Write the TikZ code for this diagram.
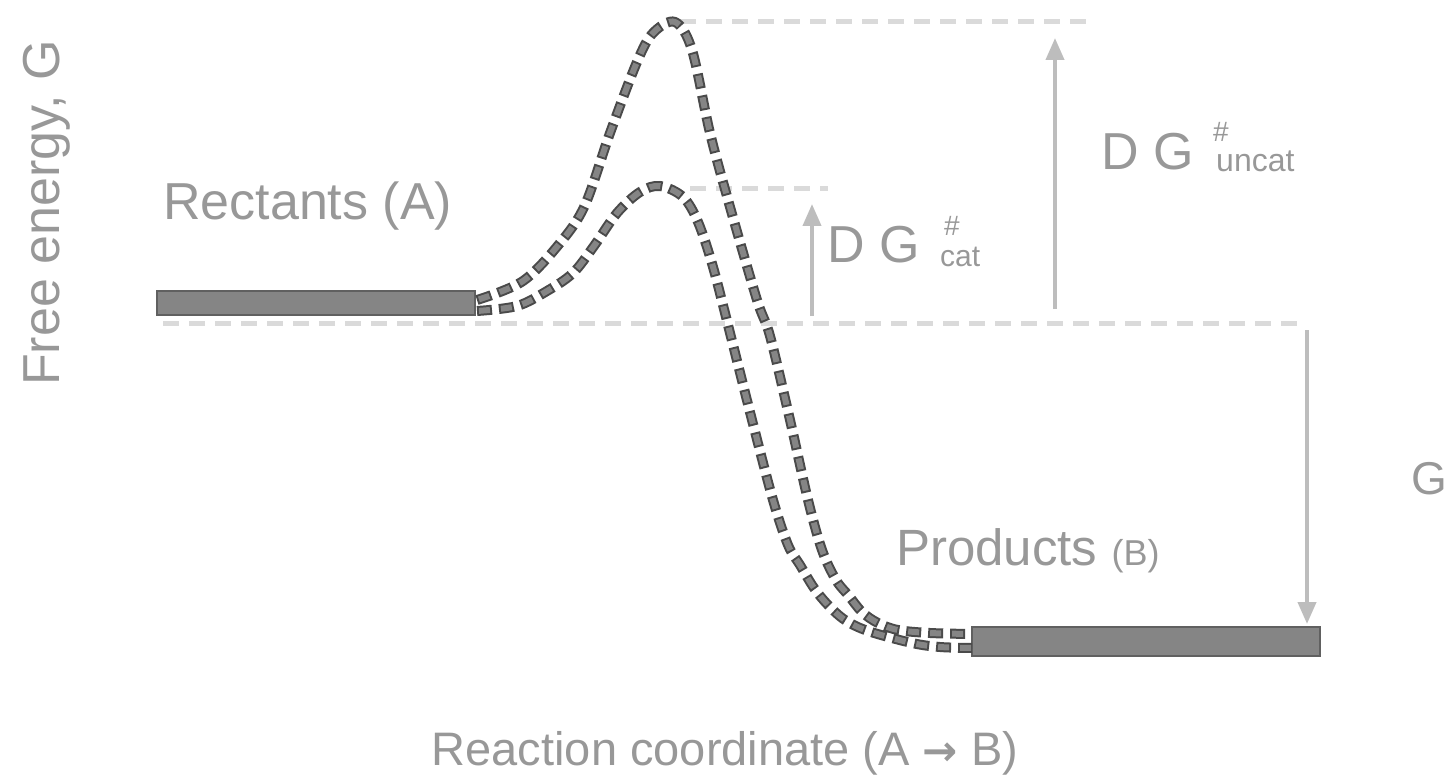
\documentclass[tikz,border=0pt]{standalone}
\usepackage{fontspec}
\setmainfont{Liberation Sans}
\newfontfamily\arrowfont{DejaVu Sans}
\usetikzlibrary{arrows.meta}
\definecolor{txtgray}{HTML}{989898}
\definecolor{arrgray}{HTML}{BDBDBD}
\definecolor{lvlgray}{HTML}{DADADA}
\definecolor{barfill}{HTML}{858585}
\definecolor{barline}{HTML}{606060}
\definecolor{curveout}{HTML}{4A4A4A}
\definecolor{curvein}{HTML}{858585}
\tikzset{
  lbl/.style={inner sep=0pt, text=txtgray},
  levelbar/.style={fill=barfill, draw=barline, line width=1.2pt},
  levelline/.style={draw=lvlgray, line width=5pt, dash pattern=on 16pt off 10pt},
  gaparrow/.style={draw=arrgray, line width=4pt, -{Triangle[width=18pt,length=22pt]}},
  curveouter/.style={draw=curveout, line width=10pt, dash pattern=on 15pt off 7pt},
  curveinner/.style={draw=curvein, line width=6pt, dash pattern=on 11pt off 11pt, dash phase=-2pt},
}
\begin{document}
\begin{tikzpicture}[x=1pt,y=-1pt]
\useasboundingbox (0,0) rectangle (1449,778);
% level lines
\draw[levelline] (163,323) -- (1305,323);
\draw[levelline] (680,22) -- (1090,22);
\draw[levelline] (690,189) -- (828,189);
% bars
\path[levelbar] (157,291) rectangle (475,315);
\path[levelbar] (972,627) rectangle (1320,656);
% curves (uncatalysed: upper peak; catalysed: lower peak)
\foreach \st in {curveouter,curveinner}{
\draw[\st] plot[smooth, tension=0.55] coordinates {(477,300) (523,281) (560,243) (585,205) (610,133) (637,62) (653,33) (675,22) (692,50) (710,133) (730,207) (757,300) (770,336) (790,420) (808,500) (822,550) (836,580) (849,596) (862,612) (878,623) (898,630) (930,633) (972,634)};
\draw[\st] plot[smooth, tension=0.55] coordinates {(477,311) (517,306) (547,291) (573,273) (594,246) (617,213) (640,192) (660,186) (683,197) (698,222) (713,267) (730,333) (752,420) (773,500) (788,545) (800,565) (814,588) (828,605) (845,620) (868,631) (912,643) (940,647) (972,648)};
}
% arrows
\coordinate (c1) at (812,316);
\coordinate (c2) at (812,204);
\coordinate (u1) at (1055,309);
\coordinate (u2) at (1055,38);
\coordinate (g1) at (1307,330);
\coordinate (g2) at (1307,624);
\draw[gaparrow] (c1) -- (c2);
\draw[gaparrow] (u1) -- (u2);
\draw[gaparrow] (g1) -- (g2);
% labels
\node[lbl, anchor=base west] (react) at (163,220) {\fontsize{52}{60}\selectfont Rectants (A)};
\node[lbl, anchor=base west] (prod) at (896,565) {\fontsize{51}{60}\selectfont Products {\fontsize{36}{40}\selectfont (B)}};
\node[lbl, anchor=base] (xlab) at (725,765) {\fontsize{47}{60}\selectfont Reaction coordinate (A {\arrowfont\bfseries\fontsize{42}{50}\selectfont →} B)};
\node[lbl, anchor=base west, rotate=90] (ylab) at (59,386) {\fontsize{52}{60}\selectfont Free energy, G};
\node[lbl, anchor=base west] (dgc) at (827,262) {\fontsize{52}{60}\selectfont D G};
\node[lbl, anchor=base west] (dgcs) at (944,236) {\fontsize{28}{30}\selectfont \#};
\node[lbl, anchor=base west] (dgcc) at (940,267) {\fontsize{30}{30}\selectfont cat};
\node[lbl, anchor=base west] (dgu) at (1101,170) {\fontsize{52}{60}\selectfont D G};
\node[lbl, anchor=base west] (dgus) at (1213,142) {\fontsize{28}{30}\selectfont \#};
\node[lbl, anchor=base west] (dguc) at (1216,172) {\fontsize{32}{30}\selectfont uncat};
\node[lbl, anchor=base west] (dgt) at (1411,494) {\fontsize{46}{55}\selectfont G};
\end{tikzpicture}
\end{document}
